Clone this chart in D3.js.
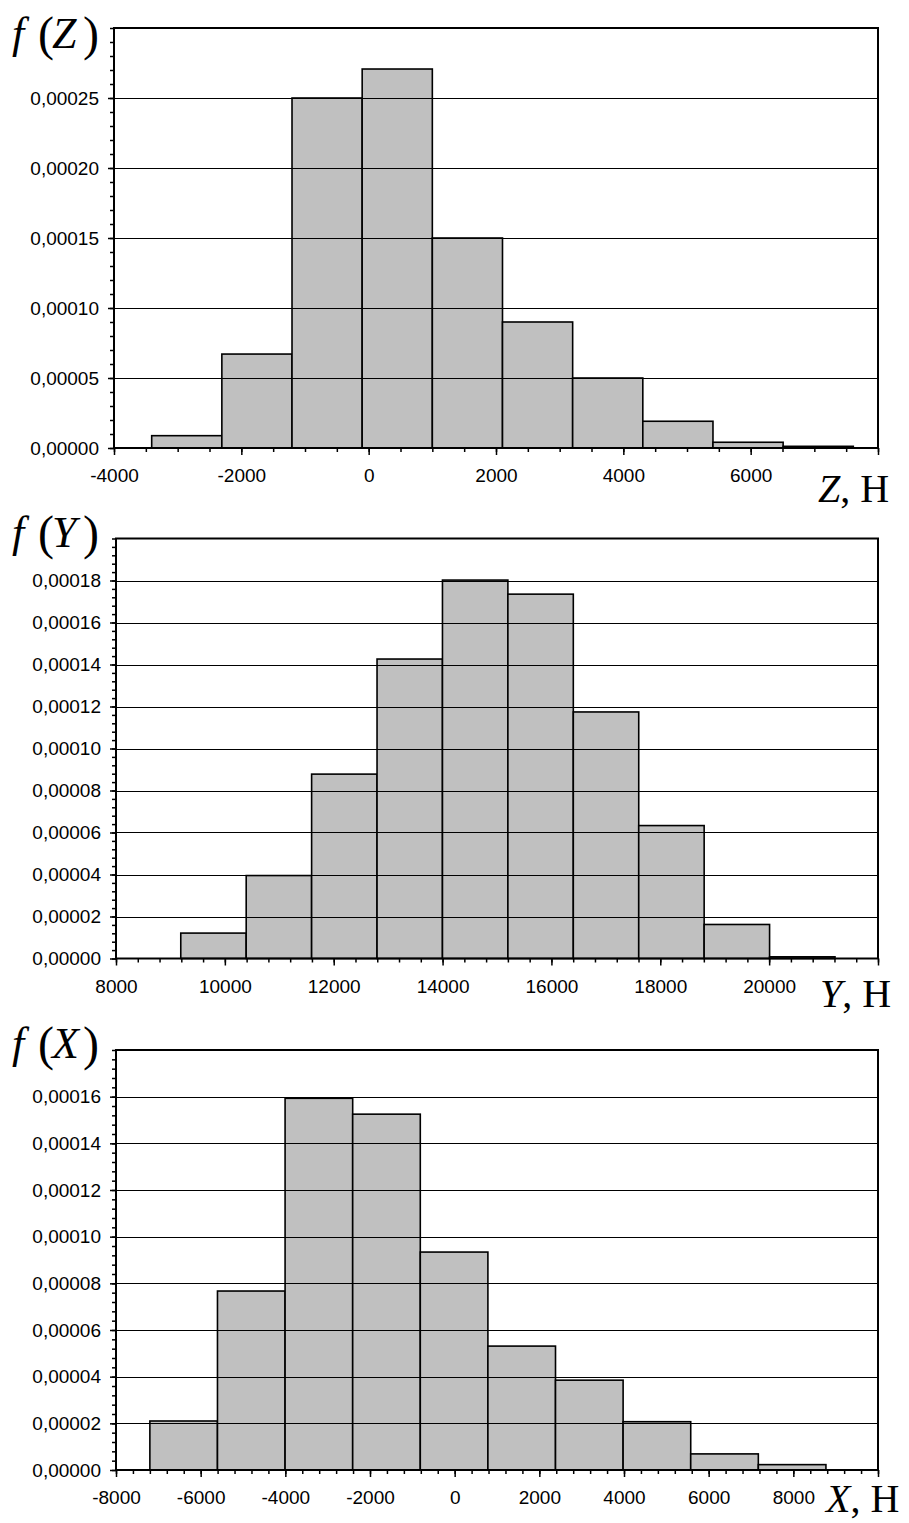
<html lang="ru">
<head>
<meta charset="utf-8">
<title>Histograms f(Z), f(Y), f(X)</title>
<script src="https://cdnjs.cloudflare.com/ajax/libs/d3/7.8.5/d3.min.js"></script>
<style>
    body { margin: 0; background: #fff; }
    svg { display: block; }
    .tick text { font-family: "Liberation Sans", Arial, sans-serif; font-size: 19px; fill: #000; }
    .ttl { font-family: "Liberation Serif", "Times New Roman", serif; fill: #000; }
</style>
</head>
<body>
<div id="chart"></div>
<script>
// --- data: bin edges and density per bin ---
var zEdges   = [-3408, -2306, -1204, -102, 1000, 2102, 3204, 4306, 5408, 6510, 7612];
var zDensity = [0.0000088, 0.0000671, 0.00025, 0.0002707, 0.00015, 0.00009, 0.00005, 0.0000191, 0.0000041, 0.0000012];
var zXTicks  = [-4000, -2000, 0, 2000, 4000, 6000];
var zYTicks  = [0, 0.00005, 0.0001, 0.00015, 0.0002, 0.00025];

var yEdges   = [9190, 10392, 11594, 12796, 13998, 15200, 16402, 17604, 18806, 20008, 21210];
var yDensity = [0.0000121, 0.0000395, 0.0000878, 0.0001426, 0.0001802, 0.0001735, 0.0001174, 0.0000633, 0.0000162, 0.0000008];
var yXTicks  = [8000, 10000, 12000, 14000, 16000, 18000, 20000];
var yYTicks  = [0, 0.00002, 0.00004, 0.00006, 0.00008, 0.0001, 0.00012, 0.00014, 0.00016, 0.00018];

var xEdges   = [-7200, -5603, -4006, -2409, -812, 785, 2382, 3979, 5576, 7173, 8770];
var xDensity = [0.000021, 0.0000767, 0.0001593, 0.0001525, 0.0000934, 0.0000531, 0.0000385, 0.0000207, 0.0000069, 0.0000023];
var xXTicks  = [-8000, -6000, -4000, -2000, 0, 2000, 4000, 6000, 8000];
var xYTicks  = [0, 0.00002, 0.00004, 0.00006, 0.00008, 0.0001, 0.00012, 0.00014, 0.00016];

var W = 909, H = 1523;

var svg = d3.select("#chart").append("svg")
    .attr("width", W).attr("height", H);

var ru = d3.formatLocale({decimal: ",", thousands: " ", grouping: [3], currency: ["", ""]});
var fmtY = ru.format(".5f");

var charts = [
    {edges: zEdges, dens: zDensity, xt: zXTicks, yt: zYTicks, xMax: 8000, yMax: 0.0003,
     xMinor: 500, yMinor: 0.00001, left: 114, right: 878, top: 28, bottom: 448,
     letter: "Z", fy: 48, ax: 818, ay: 502},
    {edges: yEdges, dens: yDensity, xt: yXTicks, yt: yYTicks, xMax: 22000, yMax: 0.0002,
     xMinor: 400, yMinor: 0.000004, left: 116, right: 878, top: 538.5, bottom: 958.5,
     letter: "Y", fy: 547, ax: 820, ay: 1007},
    {edges: xEdges, dens: xDensity, xt: xXTicks, yt: xYTicks, xMax: 10000, yMax: 0.00018,
     xMinor: 400, yMinor: 0.000004, left: 116, right: 878, top: 1050, bottom: 1470,
     letter: "X", fy: 1058, ax: 826, ay: 1512}
];

charts.forEach(drawHist);

function drawHist(c) {
    var x = d3.scaleLinear().domain([c.xt[0], c.xMax]).range([c.left, c.right]);
    var y = d3.scaleLinear().domain([0, c.yMax]).range([c.bottom, c.top]);
    var g = svg.append("g");

    var bins = c.dens.map(function(d, i) { return {x0: c.edges[i], x1: c.edges[i + 1], v: d}; });

    // bars
    g.selectAll("rect.bar").data(bins).enter()
        .append("rect")
        .attr("class", "bar")
        .attr("x", function(d) { return x(d.x0); })
        .attr("width", function(d) { return x(d.x1) - x(d.x0); })
        .attr("y", function(d) { return y(d.v); })
        .attr("height", function(d) { return c.bottom - y(d.v); })
        .attr("fill", "#c0c0c0")
        .attr("stroke", "#000")
        .attr("stroke-width", 1.6);

    // gridlines (drawn over the bars, as in the source)
    g.selectAll("line.grid").data(c.yt.filter(function(v) { return v > 0; })).enter()
        .append("line")
        .attr("class", "grid")
        .attr("x1", c.left).attr("x2", c.right)
        .attr("y1", function(d) { return Math.round(y(d)) + 0.5; })
        .attr("y2", function(d) { return Math.round(y(d)) + 0.5; })
        .attr("stroke", "#000").attr("stroke-width", 1);

    // y axis: minor then major
    var yMinorVals = d3.range(0, c.yMax + c.yMinor / 2, c.yMinor);
    g.append("g").attr("transform", "translate(" + c.left + ",0)")
        .call(d3.axisLeft(y).tickValues(yMinorVals).tickSize(4).tickFormat(""));
    g.append("g").attr("transform", "translate(" + c.left + ",0)")
        .call(d3.axisLeft(y).tickValues(c.yt).tickSize(6).tickPadding(9).tickFormat(fmtY));

    // x axis: minor then major (last major has no label)
    var xMinorVals = d3.range(c.xt[0], c.xMax + c.xMinor / 2, c.xMinor);
    g.append("g").attr("transform", "translate(0," + c.bottom + ")")
        .call(d3.axisBottom(x).tickValues(xMinorVals).tickSize(4).tickFormat(""));
    g.append("g").attr("transform", "translate(0," + c.bottom + ")")
        .call(d3.axisBottom(x).tickValues(c.xt.concat([c.xMax])).tickSize(7)
            .tickFormat(function(d) { return d === c.xMax ? "" : d; }))
        .selectAll("text").attr("y", 34).attr("dy", null);

    g.selectAll(".domain").remove();
    g.selectAll(".tick line").attr("stroke", "#000").attr("stroke-width", 1.5);

    // plot frame
    g.append("rect")
        .attr("x", c.left).attr("y", c.top)
        .attr("width", c.right - c.left).attr("height", c.bottom - c.top)
        .attr("fill", "none").attr("stroke", "#000").attr("stroke-width", 2);

    // y title  f(Z)
    var t = g.append("text").attr("class", "ttl").attr("y", c.fy).attr("font-size", 44);
    t.append("tspan").attr("x", 12).attr("font-style", "italic").text("f");
    t.append("tspan").attr("x", 38).attr("font-size", 48).attr("dy", 2).text("(");
    t.append("tspan").attr("x", 52).attr("font-style", "italic").attr("dy", -2).text(c.letter);
    t.append("tspan").attr("x", 83).attr("font-size", 48).attr("dy", 2).text(")");

    // x title  Z, Н
    var a = g.append("text").attr("class", "ttl").attr("x", c.ax).attr("y", c.ay).attr("font-size", 40);
    a.append("tspan").attr("font-style", "italic").text(c.letter);
    a.append("tspan").text(", Н");
}
</script>
</body>
</html>
